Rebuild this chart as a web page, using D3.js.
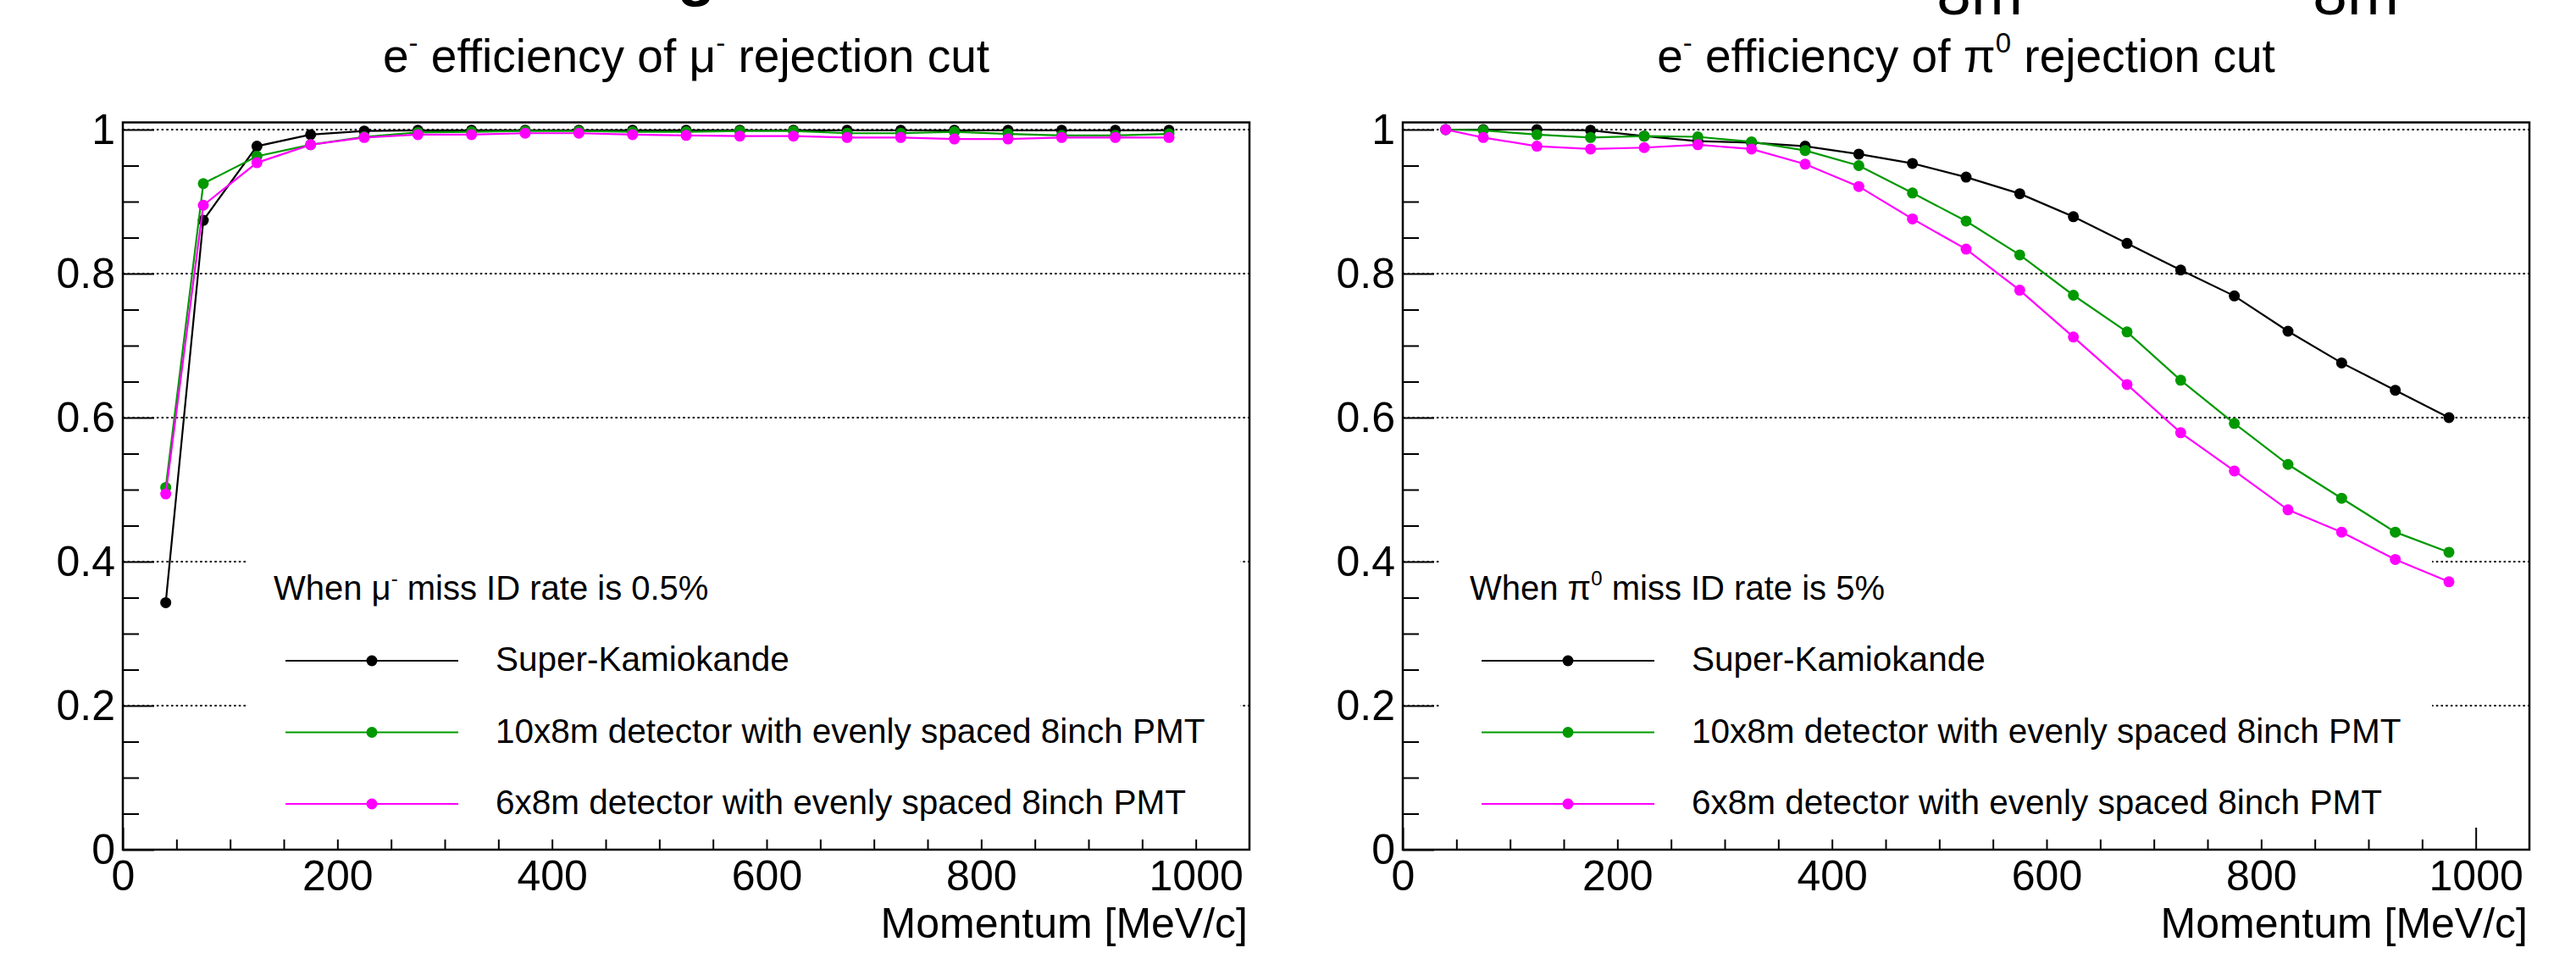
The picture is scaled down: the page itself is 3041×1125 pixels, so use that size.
<!DOCTYPE html>
<html>
<head>
<meta charset="utf-8">
<script src="https://cdn.jsdelivr.net/npm/d3@7"></script>
<style>
  body { margin: 0; background: #fff; }
  svg { display: block; font-family: "Liberation Sans", Arial, Helvetica, sans-serif; }
</style>
</head>
<body>
<svg id="chart" width="3041" height="1125"></svg>
<script>
// momentum bins [MeV/c]
var momentum = [40, 75, 125, 175, 225, 275, 325, 375, 425, 475, 525, 575, 625, 675, 725, 775, 825, 875, 925, 975];

// e- efficiency of mu- rejection cut
var muSK   = [0.343, 0.874, 0.977, 0.993, 0.998, 0.999, 0.999, 0.999, 0.999, 0.999, 0.999, 0.999, 0.999, 0.999, 0.999, 0.999, 0.999, 0.999, 0.999, 0.999];
var mu10x8 = [0.503, 0.925, 0.963, 0.979, 0.990, 0.996, 0.997, 0.998, 0.998, 0.997, 0.997, 0.998, 0.998, 0.995, 0.995, 0.997, 0.994, 0.992, 0.992, 0.994];
var mu6x8  = [0.494, 0.895, 0.954, 0.979, 0.989, 0.993, 0.993, 0.995, 0.995, 0.993, 0.992, 0.991, 0.991, 0.989, 0.989, 0.987, 0.987, 0.989, 0.989, 0.989];

// e- efficiency of pi0 rejection cut
var piSK   = [1.000, 1.000, 1.000, 0.999, 0.991, 0.984, 0.982, 0.977, 0.966, 0.953, 0.934, 0.911, 0.879, 0.842, 0.805, 0.769, 0.720, 0.676, 0.638, 0.600];
var pi10x8 = [1.000, 0.999, 0.993, 0.989, 0.991, 0.990, 0.983, 0.971, 0.950, 0.912, 0.873, 0.826, 0.770, 0.719, 0.652, 0.592, 0.535, 0.488, 0.441, 0.413];
var pi6x8  = [1.000, 0.989, 0.977, 0.973, 0.975, 0.979, 0.973, 0.952, 0.921, 0.876, 0.834, 0.777, 0.712, 0.646, 0.579, 0.526, 0.472, 0.441, 0.403, 0.372];

var seriesNames  = ["Super-Kamiokande", "10x8m detector with evenly spaced 8inch PMT", "6x8m detector with evenly spaced 8inch PMT"];
var seriesColors = ["#000000", "#009900", "#ff00ff"];

var xMajor = [0, 200, 400, 600, 800, 1000];
var xMinor = d3.range(50, 1050, 50).filter(function(d) { return d % 200 !== 0; });
var yMajor = [0, 0.2, 0.4, 0.6, 0.8, 1];
var yMinor = d3.range(1, 21).map(function(d) { return d * 0.05; }).filter(function(d) { return Math.round(d * 100) % 20 !== 0; });
var yGrid  = [0.2, 0.4, 0.6, 0.8, 1];

var svg = d3.select("#chart");
svg.append("rect").attr("width", 3041).attr("height", 1125).attr("fill", "#fff");

// cut-off pieces of a larger heading above the canvas
svg.append("text").attr("x", 822).attr("y", -7).attr("font-size", 73).attr("font-weight", "bold")
   .attr("text-anchor", "middle").text("g");
svg.append("text").attr("x", 2337).attr("y", 17).attr("font-size", 73)
   .attr("text-anchor", "middle").text("8m");
svg.append("text").attr("x", 2781).attr("y", 17).attr("font-size", 73)
   .attr("text-anchor", "middle").text("8m");

// text with small raised parts, size in px
function supText(sel, parts, size) {
    var shift = 0;
    parts.forEach(function(p) {
        if (p.sup) {
            sel.append("tspan").attr("font-size", size * 0.6).attr("dy", -size * 0.42).text(p.sup);
            shift = size * 0.42;
        } else {
            sel.append("tspan").attr("dy", shift).text(p.t);
            shift = 0;
        }
    });
}

function drawPanel(o) {
    var x = d3.scaleLinear().domain([0, 1050]).range([o.left, o.left + 1330]);
    var y = d3.scaleLinear().domain([0, 1.01]).range([1003, 144.5]);
    var g = svg.append("g");

    // title
    var t = g.append("text").attr("x", o.left + 665).attr("y", 85)
             .attr("font-size", 55).attr("text-anchor", "middle");
    supText(t, o.title, 55);

    // grid
    g.selectAll(".grid").data(yGrid).enter().append("line")
     .attr("x1", x(0)).attr("x2", x(1050))
     .attr("y1", function(d) { return y(d); }).attr("y2", function(d) { return y(d); })
     .attr("stroke", "#000").attr("stroke-width", 2).attr("stroke-dasharray", "2.5,3.2");

    // axes
    var fmt = function(d) { return d === 0 ? "0" : d === 1 ? "1" : d.toFixed(1); };
    g.append("g").attr("transform", "translate(" + x(0) + ",0)")
        .call(d3.axisLeft(y).tickValues(yMajor).tickSize(-37).tickPadding(9).tickFormat(fmt));
    g.append("g").attr("transform", "translate(" + x(0) + ",0)")
        .call(d3.axisLeft(y).tickValues(yMinor).tickSize(-19).tickFormat(""));
    g.append("g").attr("transform", "translate(0," + y(0) + ")")
        .call(d3.axisBottom(x).tickValues(xMajor).tickSize(-26).tickPadding(12).tickFormat(d3.format("d")));
    g.append("g").attr("transform", "translate(0," + y(0) + ")")
        .call(d3.axisBottom(x).tickValues(xMinor).tickSize(-12).tickFormat(""));
    g.selectAll(".domain").remove();
    g.selectAll(".tick line").attr("stroke", "#000").attr("stroke-width", 2);
    g.selectAll(".tick text").attr("font-size", 50).attr("font-family", "Liberation Sans, Arial, sans-serif").attr("fill", "#000");

    // frame
    g.append("rect").attr("x", x(0)).attr("y", y(1.01)).attr("width", x(1050) - x(0)).attr("height", y(0) - y(1.01))
     .attr("fill", "none").attr("stroke", "#000").attr("stroke-width", 2.5);

    g.append("text").attr("x", x(1050) - 2).attr("y", 1107).attr("font-size", 50)
     .attr("text-anchor", "end").text("Momentum [MeV/c]");

    // legend box (no border)
    g.append("rect").attr("x", o.box[0]).attr("y", 630).attr("width", o.box[1] - o.box[0]).attr("height", 361)
     .attr("fill", "#fff");

    // graphs
    var line = d3.line().x(function(d) { return x(d[0]); }).y(function(d) { return y(d[1]); });
    o.series.forEach(function(vals, i) {
        var pts = momentum.map(function(m, j) { return [m, vals[j]]; });
        g.append("path").datum(pts).attr("d", line).attr("fill", "none")
         .attr("stroke", seriesColors[i]).attr("stroke-width", 2.2);
        g.selectAll(".pt" + i).data(pts).enter().append("circle")
         .attr("cx", function(d) { return x(d[0]); }).attr("cy", function(d) { return y(d[1]); })
         .attr("r", 6.5).attr("fill", seriesColors[i]);
    });

    // legend contents
    var h = g.append("text").attr("x", o.headX).attr("y", 708).attr("font-size", 40);
    supText(h, o.header, 40);
    seriesNames.forEach(function(name, i) {
        var ly = 780 + i * 84.5;
        g.append("line").attr("x1", o.legX).attr("x2", o.legX + 204).attr("y1", ly).attr("y2", ly)
         .attr("stroke", seriesColors[i]).attr("stroke-width", 2.2);
        g.append("circle").attr("cx", o.legX + 102).attr("cy", ly).attr("r", 6.5).attr("fill", seriesColors[i]);
        g.append("text").attr("x", o.legX + 248).attr("y", ly + 12).attr("font-size", 40.5).text(name);
    });
}

drawPanel({
    left: 145,
    title: [{t: "e"}, {sup: "-"}, {t: " efficiency of \u03bc"}, {sup: "-"}, {t: " rejection cut"}],
    header: [{t: "When \u03bc"}, {sup: "-"}, {t: " miss ID rate is 0.5%"}],
    headX: 323, legX: 337, box: [291, 1464],
    series: [muSK, mu10x8, mu6x8]
});

drawPanel({
    left: 1656,
    title: [{t: "e"}, {sup: "-"}, {t: " efficiency of \u03c0"}, {sup: "0"}, {t: " rejection cut"}],
    header: [{t: "When \u03c0"}, {sup: "0"}, {t: " miss ID rate is 5%"}],
    headX: 1735, legX: 1749, box: [1701, 2871],
    series: [piSK, pi10x8, pi6x8]
});
</script>
</body>
</html>
